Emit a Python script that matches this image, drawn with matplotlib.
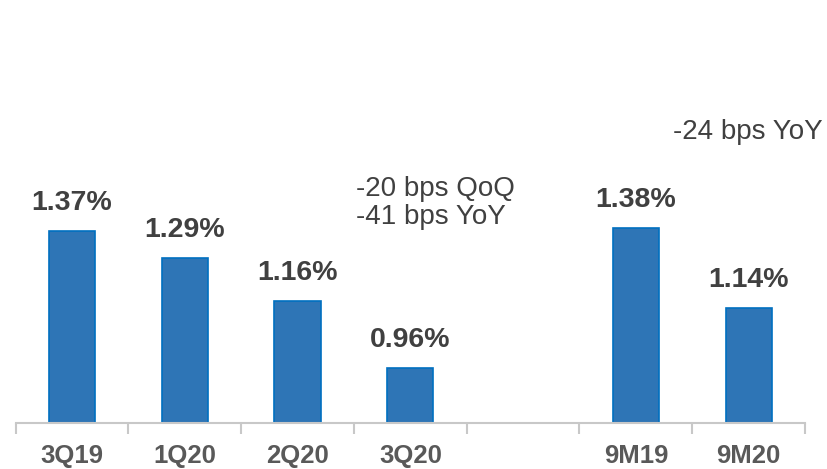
import matplotlib.pyplot as plt
import numpy as np

plt.rcParams["font.family"] = ["Liberation Sans", "DejaVu Sans"]

# quarterly and nine-month ratios, with an empty slot between the groups
categories = ["3Q19", "1Q20", "2Q20", "3Q20", "", "9M19", "9M20"]
values = [1.37, 1.29, 1.16, 0.96, None, 1.38, 1.14]
value_labels = ["1.37%", "1.29%", "1.16%", "0.96%", "", "1.38%", "1.14%"]

quarter_note = "-20 bps QoQ\n-41 bps YoY"
ytd_note = "-24 bps YoY"

bar_color = "#2E75B6"
edge_color = "#0070C0"
text_color = "#404040"
tick_color = "#595959"
axis_color = "#C8C8C8"

fig = plt.figure(figsize=(8.27, 4.69), dpi=100)
ax = fig.add_axes([0.019, 0.0974, 0.9544, 0.9026])

x = np.arange(len(categories))
for xi, v, lab in zip(x, values, value_labels):
    if v is None:
        continue
    ax.bar(xi, v, width=0.41, color=bar_color, edgecolor=edge_color,
           linewidth=1.2, bottom=0)
    ax.text(xi, v + 0.045, lab, ha="center", va="bottom", fontsize=20.5,
            fontweight="bold", color=text_color)

ax.text(2.52, 1.535, quarter_note, ha="left", va="top", fontsize=20,
        color=text_color, linespacing=1.12)
ax.text(5.33, 1.705, ytd_note, ha="left", va="top", fontsize=20,
        color=text_color)

ax.set_xlim(-0.5, len(categories) - 0.5)
ax.set_ylim(0.793, 2.063)

# category labels at the slot centres, divider ticks between slots
ax.set_xticks(x)
ax.set_xticklabels(categories, fontsize=18.5, fontweight="bold", color=tick_color)
ax.tick_params(axis="x", which="major", length=0, pad=15)
ax.set_xticks(np.arange(len(categories) + 1) - 0.5, minor=True)
ax.tick_params(axis="x", which="minor", length=8, width=1.5, color=axis_color)
ax.set_yticks([])

for side in ["top", "right", "left"]:
    ax.spines[side].set_visible(False)
ax.spines["bottom"].set_color(axis_color)
ax.spines["bottom"].set_linewidth(1.5)

fig.savefig("out.png", dpi=100)
